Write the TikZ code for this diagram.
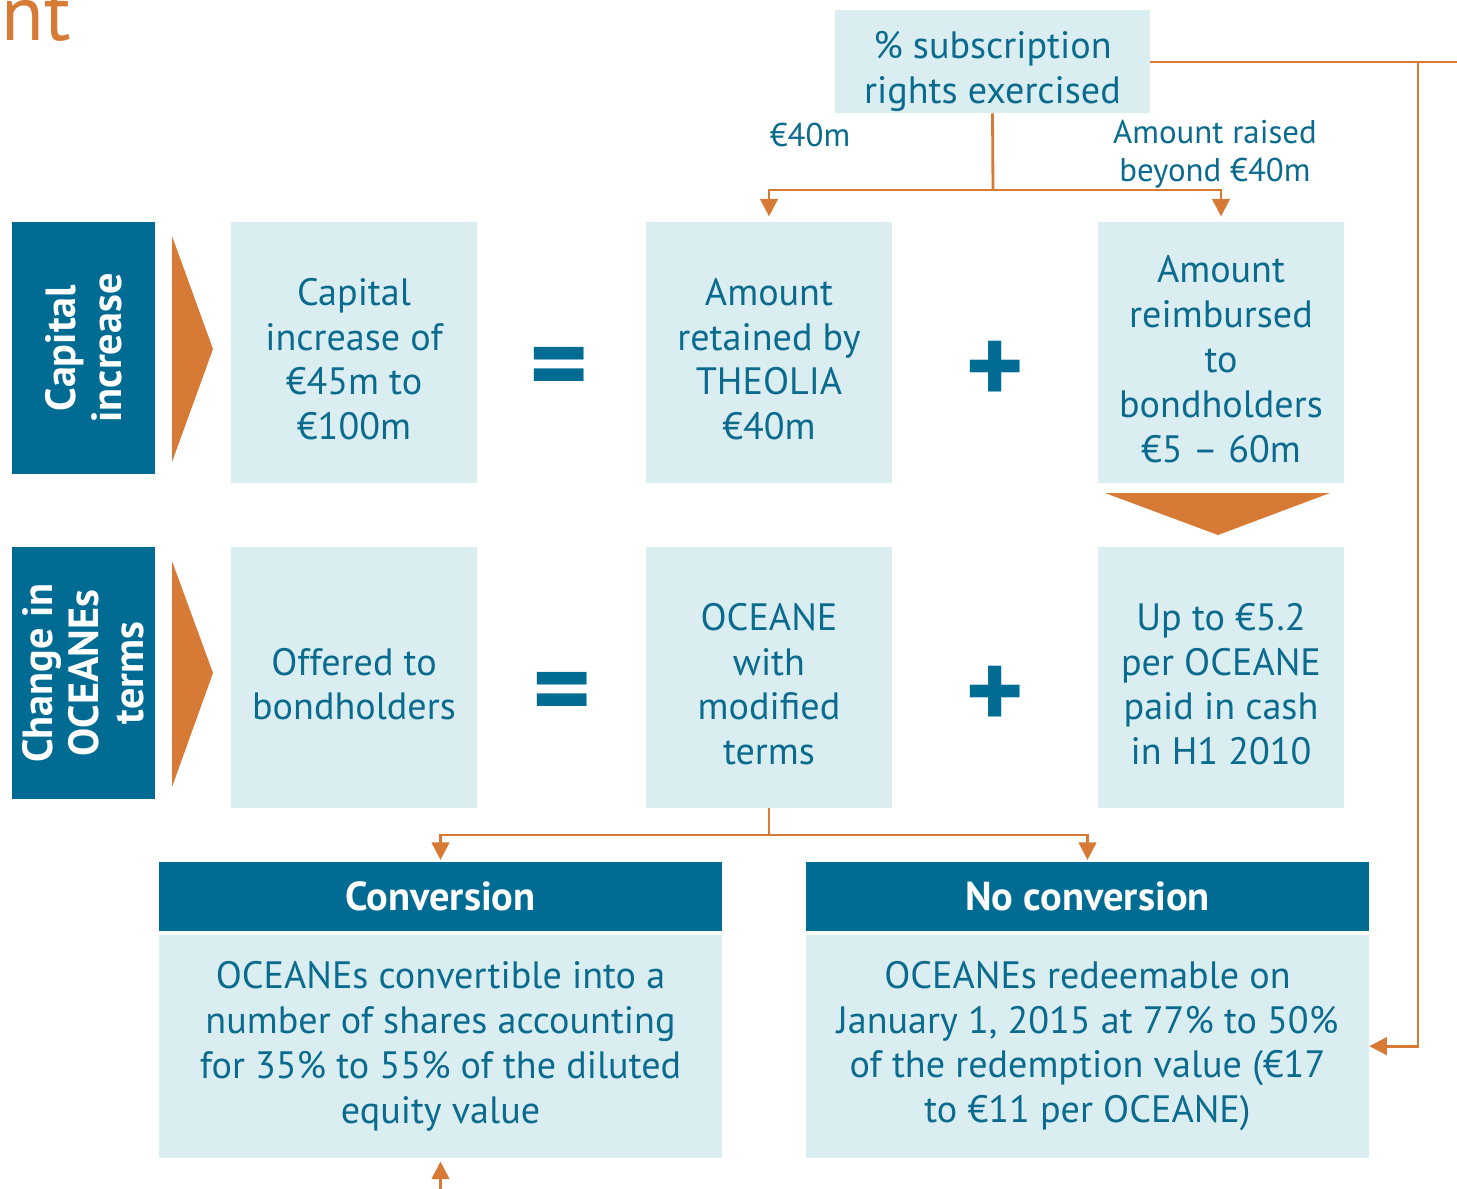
\documentclass[tikz,border=0pt]{standalone}
\usepackage{fontspec}
\setmainfont{PT Sans}
\usetikzlibrary{arrows.meta,positioning}

\definecolor{deepblue}{HTML}{006C93}
\definecolor{paleblue}{HTML}{DAEDF0}
\definecolor{inkblue}{HTML}{0B6B8E}
\definecolor{rust}{HTML}{D67A36}

% strut that pushes a box's text a little lower
\newcommand{\sinkby}[1]{\rule{0pt}{#1}}

\tikzset{
  darkbox/.style={fill=deepblue, text=white, align=center, inner sep=0pt,
    font=\fontsize{23}{26}\selectfont\bfseries},
  lightbox/.style={fill=paleblue, text=inkblue, align=center, inner sep=0pt,
    font=\fontsize{21.7}{25.5}\selectfont},
  rowbox/.style={lightbox, minimum width=4.92cm, minimum height=5.22cm},
  sidebox/.style={darkbox, rotate=90, minimum width=5.04cm, minimum height=2.86cm,
    font=\fontsize{24}{26}\selectfont\bfseries},
  headbox/.style={darkbox, minimum width=11.26cm, minimum height=1.38cm},
  bodybox/.style={lightbox, minimum width=11.26cm, minimum height=4.46cm},
  sign/.style={text=deepblue, font=\fontsize{64}{64}\selectfont\bfseries, inner sep=0pt},
  note/.style={text=inkblue, align=center, inner sep=0pt, font=\fontsize{18.7}{21.5}\selectfont},
  link/.style={draw=rust, line width=1.6pt, -{Triangle[width=10pt,length=10pt]}},
  wire/.style={draw=rust, line width=1.6pt}
}

\begin{document}
\begin{tikzpicture}[x=0.02cm, y=-0.02cm]
  \useasboundingbox (0,0) rectangle (1457,1188);

  \node[anchor=base east, text=rust, inner sep=0pt, font=\fontsize{44.5}{50}\selectfont] (title) at (71,40) {nt};

  % subscription rights on top
  \node[lightbox, minimum width=6.3cm, minimum height=2.06cm] (rights) at (992.5,61.5) {\sinkby{27pt}\% subscription\\rights exercised};
  \node[note] (fortym) at (810,135) {€40m};
  \node[note] (beyond) at (1215,154) {Amount raised\\beyond €40m};

  % side labels
  \node[sidebox] (capside) at (83.5,348) {Capital\\increase};
  \node[sidebox] (oceside) at (83.5,673) {Change in\\OCEANEs\\terms};
  \fill[rust] (172,236) -- (213,349) -- (172,462) -- cycle;
  \fill[rust] (172,561) -- (213,673) -- (172,787) -- cycle;

  % first row
  \node[rowbox] (capital) at (354,352.5) {\sinkby{23pt}Capital\\increase of\\€45m to\\€100m};
  \node[sign] (eqa) at (559,375) {=};
  \node[rowbox] (retained) at (769,352.5) {\sinkby{23pt}Amount\\retained by\\THEOLIA\\€40m};
  \node[sign] (plusa) at (995,373) {+};
  \node[rowbox] (repaid) at (1221,352.5) {\sinkby{23pt}Amount\\reimbursed\\to\\bondholders\\€5 – 60m};
  \fill[rust] (1105,493) -- (1330,493) -- (1218,535) -- cycle;

  % second row
  \node[rowbox] (offered) at (354,677.5) {\sinkby{23pt}Offered to\\bondholders};
  \node[sign] (eqb) at (562,700) {=};
  \node[rowbox] (modified) at (769,677.5) {\sinkby{23pt}OCEANE\\with\\modified\\terms};
  \node[sign] (plusb) at (995,698) {+};
  \node[rowbox] (cash) at (1221,677.5) {\sinkby{23pt}Up to €5.2\\per OCEANE\\paid in cash\\in H1 2010};

  % outcomes
  \node[headbox] (convhead) at (440.5,896.5) {Conversion};
  \node[bodybox, below=0.06cm of convhead] (convbody) {OCEANEs convertible into a\\number of shares accounting\\for 35\% to 55\% of the diluted\\equity value};
  \node[headbox] (nohead) at (1087.5,896.5) {No conversion};
  \node[bodybox, below=0.06cm of nohead] (nobody) {OCEANEs redeemable on\\January 1, 2015 at 77\% to 50\%\\of the redemption value (€17\\to €11 per OCEANE)};

  % connectors
  \coordinate (splittop) at (993,190);
  \draw[wire] (rights.south) -- (splittop);
  \draw[link, shorten >=3pt] (splittop) -| (retained.north);
  \draw[link, shorten >=3pt] (splittop) -| (repaid.north);

  \coordinate (splitlow) at (769,835);
  \draw[wire] (modified.south) -- (splitlow);
  \draw[link, shorten >=1pt] (splitlow) -| (convhead.north);
  \draw[link, shorten >=1pt] (splitlow) -| (nohead.north);

  \coordinate (edge) at (1457,62);
  \coordinate (corner) at (1418,62);
  \draw[wire] (rights.east |- edge) -- (edge);
  \draw[link] (corner) |- (nobody.east);

  \coordinate (foot) at (440.5,1195);
  \draw[link, shorten >=2pt] (foot) -- (convbody.south);
\end{tikzpicture}
\end{document}
